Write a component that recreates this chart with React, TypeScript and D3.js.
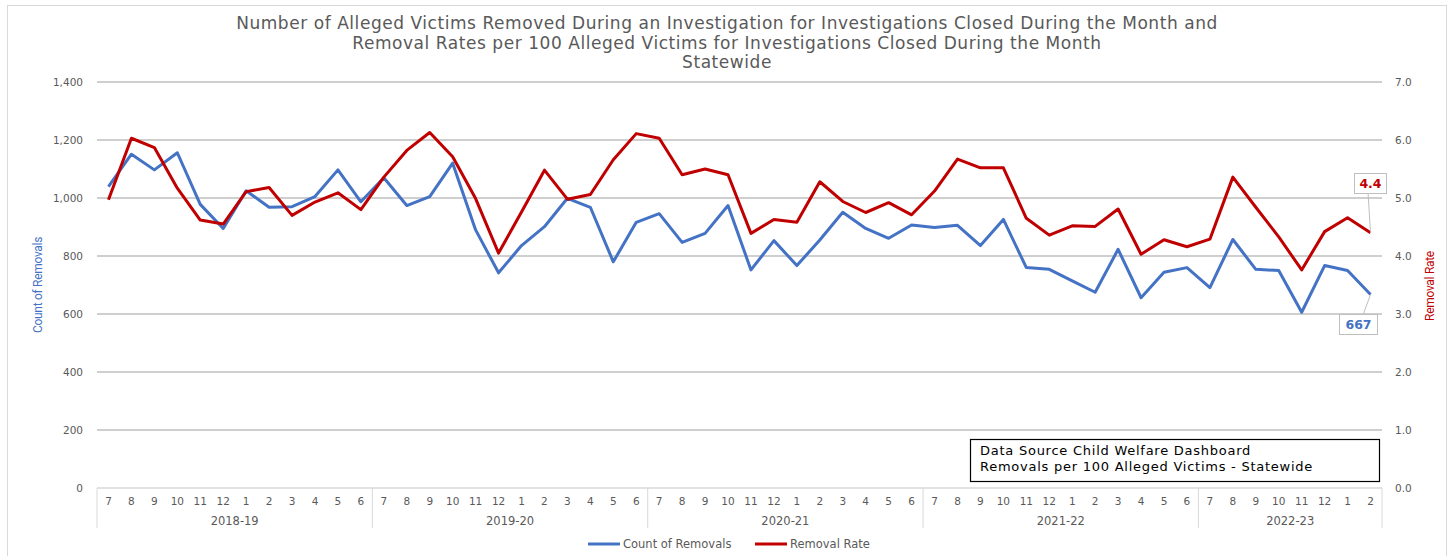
import React from "react";
import * as d3 from "d3";

const fiscalYears = ["2018-19", "2019-20", "2020-21", "2021-22", "2022-23"];
const monthsPerYear = [12, 12, 12, 12, 8];
const monthLabels = ["7", "8", "9", "10", "11", "12", "1", "2", "3", "4", "5", "6"];

const countOfRemovals = [
  1039, 1151, 1097, 1156, 978, 895, 1025, 968, 970, 1005, 1097, 987,
  1070, 974, 1005, 1120, 890, 742, 836, 901, 999, 968, 780, 916,
  946, 847, 878, 974, 752, 853, 767, 855, 951, 895, 861, 907,
  898, 906, 836, 926, 760, 754, 714, 675, 823, 656, 744, 760,
  691, 857, 754, 750, 606, 767, 750, 667,
];

const removalRate = [
  4.97, 6.03, 5.87, 5.17, 4.62, 4.55, 5.11, 5.18, 4.7, 4.93, 5.09, 4.8,
  5.36, 5.82, 6.13, 5.71, 4.99, 4.05, 4.76, 5.48, 4.98, 5.06, 5.66, 6.11,
  6.03, 5.4, 5.5, 5.4, 4.39, 4.63, 4.58, 5.28, 4.94, 4.75, 4.92, 4.71,
  5.12, 5.67, 5.52, 5.52, 4.65, 4.36, 4.52, 4.51, 4.81, 4.03, 4.28, 4.16,
  4.29, 5.36, 4.84, 4.33, 3.76, 4.42, 4.66, 4.4,
];

const countTicks = [0, 200, 400, 600, 800, 1000, 1200, 1400];
const rateTicks = [0, 1, 2, 3, 4, 5, 6, 7];

const titleLines = [
  "Number of Alleged Victims Removed During an Investigation for Investigations Closed During the Month and",
  "Removal Rates per 100 Alleged Victims for Investigations Closed During the Month",
  "Statewide",
];
const sourceLines = ["Data Source Child Welfare Dashboard", "Removals per 100  Alleged Victims - Statewide"];

const BLUE = "#4472c4";
const RED = "#c00000";
const GREY = "#595959";
const FONT = "'DejaVu Sans', 'Liberation Sans', sans-serif";

export default function App() {
  const width = 1450;
  const height = 556;
  const left = 97;
  const right = 1382;
  const top = 82;
  const bottom = 488;

  const monthIndex = d3.range(countOfRemovals.length);
  const x = d3.scaleBand<number>().domain(monthIndex).range([left, right]).padding(0);
  const cx = (i: number) => (x(i) as number) + x.bandwidth() / 2;
  const yCount = d3.scaleLinear().domain([0, 1400]).range([bottom, top]);
  const yRate = d3.scaleLinear().domain([0, 7]).range([bottom, top]);

  const countLine = d3
    .line<number>()
    .x((_, i) => cx(i))
    .y((d) => yCount(d));
  const rateLine = d3
    .line<number>()
    .x((_, i) => cx(i))
    .y((d) => yRate(d));

  // month labels + year group boundaries
  const monthTicks: { i: number; label: string }[] = [];
  const groups: { start: number; end: number; label: string }[] = [];
  let k = 0;
  fiscalYears.forEach((fy, g) => {
    const start = k;
    for (let m = 0; m < monthsPerYear[g]; m++) {
      monthTicks.push({ i: k, label: monthLabels[m] });
      k++;
    }
    groups.push({ start, end: k, label: fy });
  });
  const edge = (i: number) => (i < monthIndex.length ? (x(i) as number) : right);

  const last = countOfRemovals.length - 1;
  const lastX = cx(last);
  const lastRateY = yRate(removalRate[last]);
  const lastCountY = yCount(countOfRemovals[last]);

  return (
    <svg
      width={width}
      height={height}
      style={{ position: "absolute", left: 0, top: 0, background: "#fff" }}
      fontFamily={FONT}
    >
      <rect x={7.5} y={5.5} width={1439} height={560} fill="#fff" stroke="#d9d9d9" />

      {titleLines.map((t, i) => (
        <text key={i} x={727} y={29 + i * 19.5} textAnchor="middle" fontSize={17} letterSpacing={0.55} fill={GREY}>
          {t}
        </text>
      ))}

      {countTicks.map((t) => (
        <g key={t}>
          <line x1={left} x2={right} y1={yCount(t)} y2={yCount(t)} stroke={t === 0 ? "#d9d9d9" : "#bfbfbf"} strokeWidth={1.5} />
          <text x={83} y={yCount(t) + 4} textAnchor="end" fontSize={10.5} fill={GREY}>
            {d3.format(",")(t)}
          </text>
        </g>
      ))}
      {rateTicks.map((t) => (
        <text key={t} x={1395} y={yRate(t) + 4} fontSize={10.5} fill={GREY}>
          {d3.format(".1f")(t)}
        </text>
      ))}

      {/* category axis */}
      {groups.map((g) => (
        <g key={g.label}>
          <line x1={edge(g.start)} x2={edge(g.start)} y1={bottom} y2={528} stroke="#d9d9d9" />
          <text x={(edge(g.start) + edge(g.end)) / 2} y={525} textAnchor="middle" fontSize={11.5} fill={GREY}>
            {g.label}
          </text>
        </g>
      ))}
      <line x1={right} x2={right} y1={bottom} y2={528} stroke="#d9d9d9" />
      {monthTicks.map((m) => (
        <text key={m.i} x={cx(m.i)} y={505} textAnchor="middle" fontSize={10.5} fill={GREY}>
          {m.label}
        </text>
      ))}

      <text
        transform={`translate(42, 285) rotate(-90)`}
        textAnchor="middle"
        fontSize={12}
        fill={BLUE}
        fontFamily="'Liberation Sans Narrow', 'Roboto', sans-serif"
        letterSpacing={-0.3}
      >
        Count of Removals
      </text>
      <text
        transform={`translate(1434, 286) rotate(-90)`}
        textAnchor="middle"
        fontSize={12}
        fill={RED}
        fontFamily="'Liberation Sans Narrow', 'Roboto', sans-serif"
        letterSpacing={-0.3}
      >
        Removal Rate
      </text>

      <path d={countLine(countOfRemovals) || ""} fill="none" stroke={BLUE} strokeWidth={3} strokeLinejoin="round" />
      <path d={rateLine(removalRate) || ""} fill="none" stroke={RED} strokeWidth={3} strokeLinejoin="round" />

      {/* data labels */}
      <line x1={1368} x2={lastX} y1={192} y2={lastRateY} stroke="#bfbfbf" />
      <rect x={1354.5} y={173.5} width={32} height={20} fill="#fff" stroke="#bfbfbf" />
      <text x={1370.5} y={188} textAnchor="middle" fontSize={12.5} fontWeight="bold" fill={RED}>
        {d3.format(".1f")(removalRate[last])}
      </text>
      <line x1={1363} x2={lastX} y1={315} y2={lastCountY} stroke="#bfbfbf" />
      <rect x={1339.5} y={314.5} width={38} height={20} fill="#fff" stroke="#bfbfbf" />
      <text x={1358.5} y={329} textAnchor="middle" fontSize={12.5} fontWeight="bold" fill={BLUE}>
        {countOfRemovals[last]}
      </text>

      {/* source box */}
      <rect x={970.5} y={439.5} width={409} height={42} fill="#fff" stroke="#000" strokeWidth={1.2} />
      {sourceLines.map((s, i) => (
        <text key={i} x={980} y={455 + i * 16} fontSize={13} letterSpacing={0.75} fill="#000">
          {s}
        </text>
      ))}

      {/* legend */}
      <line x1={588} x2={620} y1={544} y2={544} stroke={BLUE} strokeWidth={3} />
      <text x={623} y={548} fontSize={11.5} fill={GREY}>
        Count of Removals
      </text>
      <line x1={755} x2={787} y1={544} y2={544} stroke={RED} strokeWidth={3} />
      <text x={790} y={548} fontSize={11.5} fill={GREY}>
        Removal Rate
      </text>
    </svg>
  );
}
